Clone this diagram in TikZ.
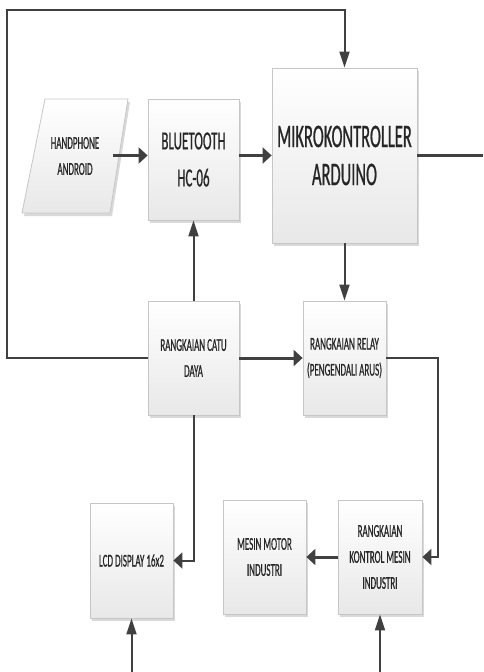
\documentclass[tikz,border=0pt]{standalone}
\usepackage{fontspec}
\setmainfont{Carlito}[FakeStretch=0.5, FakeBold=0.6]
\usetikzlibrary{arrows.meta,shadows}
\definecolor{linegray}{HTML}{404040}
\definecolor{textgray}{HTML}{262626}
\begin{document}
\begin{tikzpicture}[x=1pt, y=-1pt,
  shade/.style={draw=gray!45, line width=0.8pt, top color=white, bottom color=gray!18,
    drop shadow={shadow xshift=2pt, shadow yshift=-3pt, opacity=1, fill=gray!30}},
  label/.style={text=textgray, align=center, inner sep=2pt, font=\fontsize{18}{26}\selectfont},
  box/.style={shade, label},
  link/.style={draw=linegray, line width=2pt},
  boldlink/.style={draw=linegray, line width=3pt},
  htip/.style={-{Triangle[length=9pt, width=16pt]}},
  vtip/.style={-{Triangle[length=16pt, width=10pt]}}]
  \useasboundingbox (0,0) rectangle (483,672);
  \path[shade] (45,99) -- (128,99) -- (110,213) -- (22,213) -- cycle;
  \node[label, minimum width=76pt, minimum height=114pt] (phone) at (75,156) {HANDPHONE\\ANDROID};
  \node[box, minimum width=91pt, minimum height=121pt, font=\fontsize{26}{37}\selectfont] (bt) at (193.5,159.5) {BLUETOOTH\\HC-06};
  \node[box, minimum width=145pt, minimum height=175pt, font=\fontsize{33}{38}\selectfont] (mcu) at (344.5,155.5) {MIKROKONTROLLER\\ARDUINO};
  \node[box, minimum width=91pt, minimum height=114pt] (catu) at (193.5,358) {RANGKAIAN CATU\\DAYA};
  \node[box, minimum width=83pt, minimum height=114pt] (relay) at (344.5,358) {RANGKAIAN RELAY\\(PENGENDALI ARUS)};
  \node[box, minimum width=83pt, minimum height=115pt] (lcd) at (131.5,560.5) {LCD DISPLAY 16x2};
  \node[box, minimum width=83pt, minimum height=114pt] (motor) at (264.5,557) {MESIN MOTOR\\INDUSTRI};
  \node[box, minimum width=84pt, minimum height=114pt] (kontrol) at (380,557) {RANGKAIAN\\KONTROL MESIN\\INDUSTRI};
  \coordinate (corner) at (7,10);
  \coordinate (out) at (483,155);
  \coordinate (relaybend) at (438,358);
  \coordinate (lcdin) at (131.5,672);
  \coordinate (kontrolin) at (380,672);
  \draw[boldlink, htip] (phone.east |- mcu.west) -- (mcu.west -| bt.west);
  \draw[boldlink, htip] (bt.east |- mcu.west) -- (mcu.west);
  \draw[boldlink] (mcu.east) -- (mcu.east -| out);
  \draw[link, vtip] (catu.west) -| (corner) -| (mcu.north);
  \draw[link, vtip] (catu.north) -- (bt.south);
  \draw[link, vtip] (mcu.south) -- (relay.north);
  \draw[boldlink, htip] (catu.east) -- (relay.west);
  \draw[link, htip] (relay.east) -- (relaybend) |- (kontrol.east);
  \draw[link, htip] (catu.south) |- (lcd.east);
  \draw[boldlink, htip] (kontrol.west) -- (motor.east);
  \draw[link, vtip] (lcdin) -- (lcd.south);
  \draw[link, vtip] (kontrolin) -- (kontrol.south);
\end{tikzpicture}
\end{document}
